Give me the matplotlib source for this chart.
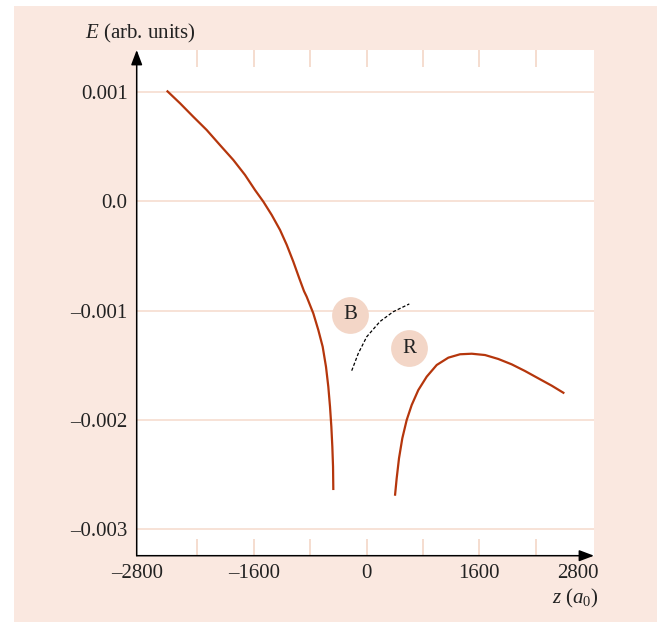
import matplotlib
matplotlib.use("Agg")
import matplotlib.pyplot as plt
from matplotlib.patches import Rectangle

# ---------------- data ----------------
left_z = [-2835, -2646, -2458, -2268, -2079, -1890, -1724, -1582, -1464, -1345, -1227,
          -1132, -1039, -954, -887, -849, -755, -684, -622, -575, -542, -518, -499,
          -485, -475, -471]
left_E = [0.00101, 0.000894, 0.000771, 0.00065, 0.000512, 0.000376, 0.000239, 0.000101,
          -0.000005, -0.000127, -0.000264, -0.0004, -0.000553, -0.000706, -0.000823,
          -0.000874, -0.001026, -0.001178, -0.001331, -0.001514, -0.001697, -0.001879,
          -0.002062, -0.002245, -0.002428, -0.002641]

right_z = [404, 428, 461, 508, 570, 641, 735, 854, 996, 1161, 1327, 1493, 1682, 1870,
           2060, 2249, 2438, 2628, 2807]
right_E = [-0.002693, -0.002534, -0.002351, -0.002168, -0.002001, -0.001864, -0.001727,
           -0.001605, -0.001498, -0.001431, -0.0014, -0.001395, -0.001407, -0.001443,
           -0.001492, -0.001553, -0.00162, -0.001687, -0.001757]

dash_z = [-210, -116, 3, 192, 380, 607]
dash_E = [-0.00155, -0.001391, -0.00124, -0.0011, -0.001011, -0.00094]

marker_names = ["B", "R"]
marker_z = [-234, 603]
marker_E = [-0.001041, -0.001346]

y_ticks = [-0.003, -0.002, -0.001, 0.0, 0.001]
y_tick_labels = ["\u20130.003", "\u20130.002", "\u20130.001", "0.0", "0.001"]
x_minor_ticks = [-2400, -1600, -800, 0, 800, 1600, 2400]
x_ticks = [-1600, 0, 1600]
x_tick_labels = ["\u20131600", "0", "1600"]
x_end_labels = ["\u20132800", "2800"]

# ---------------- style ----------------
PEACH = "#FAE8E0"
GRID = "#F5DACB"
RED = "#B5360C"
CIRCLE = "#F3D6C7"
FONT = "Liberation Serif"
FS = 15

plt.rcParams["font.family"] = [FONT, "DejaVu Serif"]
plt.rcParams["mathtext.fontset"] = "custom"
plt.rcParams["mathtext.rm"] = FONT
plt.rcParams["mathtext.it"] = FONT + ":italic"

W, H = 666, 622
fig = plt.figure(figsize=(W / 100, H / 100), dpi=100, facecolor="white")
fig.patches.append(Rectangle((14 / W, 0), (657 - 14) / W, 1 - 6 / H,
                             transform=fig.transFigure, facecolor=PEACH,
                             edgecolor="none", zorder=-10))

ax_l, ax_r, ax_t, ax_b = 136.7, 594.0, 50.0, 555.7
ax = fig.add_axes([ax_l / W, 1 - ax_b / H, (ax_r - ax_l) / W, (ax_b - ax_t) / H])
ax.set_facecolor("white")

ax.set_xlim(-3261, 3228)
ax.set_ylim(-0.003241, 0.001381)

# grid lines
for yv in y_ticks:
    ax.axhline(yv, color=GRID, lw=1.1, zorder=1)
# small vertical tick segments at top and bottom
tick_frac = 17.0 / (ax_b - ax_t)
ax.vlines(x_minor_ticks, 0, tick_frac, transform=ax.get_xaxis_transform(),
          color=GRID, lw=1.3, zorder=1)
ax.vlines(x_minor_ticks, 1 - tick_frac, 1, transform=ax.get_xaxis_transform(),
          color=GRID, lw=1.3, zorder=1)

# curves
ax.plot(left_z, left_E, color=RED, lw=1.6, zorder=3, solid_capstyle="butt",
        solid_joinstyle="round")
ax.plot(right_z, right_E, color=RED, lw=1.6, zorder=3, solid_capstyle="butt",
        solid_joinstyle="round")
ax.plot(dash_z, dash_E, color="black", lw=0.9, ls=(0, (2.6, 1.6)), zorder=3)

# circle labels
for name, zx, ey in zip(marker_names, marker_z, marker_E):
    ax.plot([zx], [ey], "o", ms=26.5, color=CIRCLE, mec="none", zorder=2)
    ax.text(zx, ey, name, ha="center", va="center", fontsize=FS, color="#222222",
            zorder=4)

# spines and arrows
for s in ["top", "right", "left", "bottom"]:
    ax.spines[s].set_visible(False)
arrow = dict(arrowstyle="-|>,head_length=0.9,head_width=0.34", mutation_scale=10,
             lw=1.1, color="black", shrinkA=0, shrinkB=0)
ax.annotate("", xy=(0, 1), xytext=(0, 0), xycoords="axes fraction",
            textcoords="axes fraction", arrowprops=arrow, annotation_clip=False)
ax.annotate("", xy=(1, 0), xytext=(0, 0), xycoords="axes fraction",
            textcoords="axes fraction", arrowprops=arrow, annotation_clip=False)

# ticks
ax.set_yticks(y_ticks)
ax.set_yticklabels(y_tick_labels, fontsize=FS, color="#222222")
ax.set_xticks(x_ticks)
ax.set_xticklabels(x_tick_labels, fontsize=FS, color="#222222")
ax.tick_params(axis="y", length=0, pad=6.5)
ax.tick_params(axis="x", length=0, pad=6.0)

end_y = -(6.0 * 100 / 72) / (ax_b - ax_t)
ax.text(0, end_y, x_end_labels[0], transform=ax.transAxes, ha="center", va="top",
        fontsize=FS, color="#222222")
ax.text((598.5 - ax_l) / (ax_r - ax_l), end_y, x_end_labels[1], transform=ax.transAxes,
        ha="right", va="top", fontsize=FS, color="#222222")

# axis labels
fig.text(196 / W, 1 - 33 / H, r"$E$ (arb. units)", ha="right", va="center",
         fontsize=FS, color="#222222")
fig.text(598.5 / W, 1 - 598 / H, r"$z$ ($a_0$)", ha="right", va="center",
         fontsize=FS, color="#222222")

fig.savefig("out.png", dpi=100, facecolor="white")
